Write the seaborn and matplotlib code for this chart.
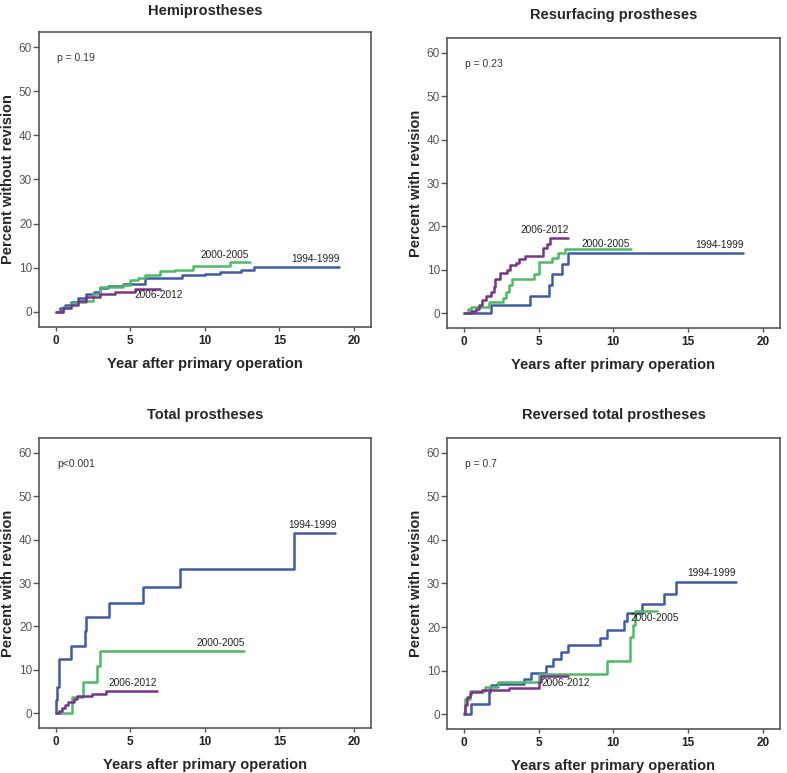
import matplotlib
matplotlib.use("Agg")
import matplotlib.pyplot as plt
import pandas as pd
import seaborn as sns

PERIODS = ["1994-1999", "2000-2005", "2006-2012"]
PALETTE = {"1994-1999": "#3e5ba8", "2000-2005": "#4dbb63", "2006-2012": "#78348a"}

# Hemiprostheses (step times in years, cumulative percent)
hemi_t_94 = [0, 0.3, 0.6, 1.0, 1.5, 2.0, 2.6, 3.0, 3.5, 4.5, 6.0, 8.0, 8.5, 10.0, 11.0, 12.4, 13.3, 19.0]
hemi_y_94 = [0, 0.8, 1.5, 2.2, 3.2, 4.1, 4.6, 5.5, 5.9, 6.3, 7.6, 7.8, 8.3, 8.7, 9.0, 9.6, 10.1, 10.1]
hemi_t_00 = [0, 0.5, 1.0, 1.5, 2.0, 2.5, 3.0, 4.5, 5.0, 5.5, 6.0, 7.0, 8.0, 9.2, 11.7, 13.0]
hemi_y_00 = [0, 1.2, 2.0, 2.2, 2.4, 4.0, 5.6, 6.0, 7.3, 7.8, 8.3, 9.3, 9.5, 10.3, 11.4, 11.4]
hemi_t_06 = [0, 0.5, 1.0, 1.5, 2.0, 3.0, 4.0, 5.3, 7.0]
hemi_y_06 = [0, 0.8, 1.5, 2.5, 3.5, 4.0, 4.5, 5.2, 5.2]

# Resurfacing prostheses
resu_t_94 = [0, 1.8, 4.4, 5.7, 5.9, 6.6, 7.0, 18.7]
resu_y_94 = [0, 2.0, 4.0, 6.5, 9.0, 11.3, 13.8, 13.8]
resu_t_00 = [0, 0.3, 0.5, 1.7, 2.6, 2.8, 3.0, 3.2, 4.7, 5.0, 5.9, 6.3, 6.8, 11.2]
resu_y_00 = [0, 1.0, 1.5, 2.5, 3.5, 5.0, 6.5, 8.0, 9.0, 11.8, 12.7, 13.8, 14.7, 14.7]
resu_t_06 = [0, 0.5, 0.8, 1.0, 1.2, 1.5, 1.8, 2.0, 2.1, 2.4, 2.9, 3.1, 3.5, 3.7, 4.1, 5.3, 5.6, 5.8, 7.0]
resu_y_06 = [0, 0.5, 1.0, 2.0, 3.0, 4.0, 5.0, 6.0, 8.0, 9.3, 10.0, 11.0, 11.5, 12.5, 13.3, 15.0, 16.0, 17.3, 17.3]

# Total prostheses
tota_t_94 = [0, 0.05, 0.1, 0.2, 0.25, 1.05, 1.95, 2.05, 3.6, 5.85, 8.35, 15.95, 18.7]
tota_y_94 = [0, 3.0, 6.0, 9.5, 12.5, 15.6, 19.0, 22.2, 25.5, 29.2, 33.2, 41.5, 41.5]
tota_t_00 = [0, 1.1, 1.8, 2.75, 3.0, 12.6]
tota_y_00 = [0, 3.7, 7.2, 10.8, 14.3, 14.3]
tota_t_06 = [0, 0.2, 0.4, 0.6, 0.8, 1.2, 1.4, 2.4, 3.4, 6.8]
tota_y_06 = [0, 0.5, 1.3, 2.0, 2.6, 3.2, 3.9, 4.5, 5.2, 5.2]

# Reversed total prostheses
reve_t_94 = [0, 0.5, 1.7, 1.75, 1.85, 2.2, 4.0, 4.5, 5.5, 6.0, 6.5, 7.0, 9.1, 9.6, 10.7, 10.9, 11.9, 13.4, 14.2, 18.2]
reve_y_94 = [0, 2.3, 5.0, 6.2, 6.6, 7.0, 8.1, 9.5, 11.0, 12.6, 14.2, 15.9, 17.5, 19.3, 21.5, 23.3, 25.2, 27.6, 30.4, 30.4]
reve_t_00 = [0, 0.05, 0.4, 1.4, 2.3, 5.0, 9.6, 11.1, 11.35, 11.45, 12.9]
reve_y_00 = [0.5, 3.5, 5.3, 6.3, 7.3, 9.3, 12.2, 17.7, 20.5, 23.7, 23.7]
reve_t_06 = [0, 0.05, 0.2, 0.4, 0.5, 1.2, 3.0, 5.0, 5.2, 7.0]
reve_y_06 = [0, 2.0, 4.0, 4.7, 5.0, 5.5, 6.0, 7.4, 8.8, 8.8]

TITLES = ["Hemiprostheses", "Resurfacing prostheses", "Total prostheses", "Reversed total prostheses"]
YLABELS = ["Percent without revision", "Percent with revision", "Percent with revision", "Percent with revision"]
XLABELS = ["Year after primary operation", "Years after primary operation",
           "Years after primary operation", "Years after primary operation"]
PVALUES = ["p = 0.19", "p = 0.23", "p<0.001", "p = 0.7"]


def frame(series):
    rows = []
    for period, (t, y) in zip(PERIODS, series):
        rows.append(pd.DataFrame({"years": t, "percent": y, "period": period}))
    return pd.concat(rows, ignore_index=True)


panels = [
    frame([(hemi_t_94, hemi_y_94), (hemi_t_00, hemi_y_00), (hemi_t_06, hemi_y_06)]),
    frame([(resu_t_94, resu_y_94), (resu_t_00, resu_y_00), (resu_t_06, resu_y_06)]),
    frame([(tota_t_94, tota_y_94), (tota_t_00, tota_y_00), (tota_t_06, tota_y_06)]),
    frame([(reve_t_94, reve_y_94), (reve_t_00, reve_y_00), (reve_t_06, reve_y_06)]),
]

# curve label positions (x, y) per panel, in order of PERIODS
label_pos = [
    [(17.4, 12.0), (11.3, 13.0), (6.9, 3.8)],
    [(17.1, 15.7), (9.5, 16.0), (5.4, 19.2)],
    [(17.2, 43.3), (11.05, 16.1), (5.15, 6.9)],
    [(16.6, 32.3), (12.8, 22.0), (6.8, 7.1)],
]

axes_rects = [
    [0.0496, 0.577, 0.4219, 0.3816],
    [0.568, 0.5757, 0.423, 0.375],
    [0.0496, 0.0582, 0.4219, 0.375],
    [0.568, 0.0569, 0.423, 0.3765],
]
title_pads = [12, 14, 14, 14]

sns.set_style("white")
plt.rcParams["font.family"] = ["Liberation Sans", "DejaVu Sans"]

fig = plt.figure(figsize=(7.87, 7.73), dpi=100)

for i, data in enumerate(panels):
    ax = fig.add_axes(axes_rects[i])
    sns.lineplot(
        data=data, x="years", y="percent", hue="period", palette=PALETTE,
        estimator=None, sort=False, drawstyle="steps-post", linewidth=1.8,
        legend=False, ax=ax,
    )
    ax.set_xlim(-1.12, 21.15)
    ax.set_ylim(-3.4, 63.4)
    ax.set_xticks([0, 5, 10, 15, 20])
    ax.set_yticks([0, 10, 20, 30, 40, 50, 60])
    ax.tick_params(axis="x", direction="out", length=3, width=1, color="#555555",
                   labelsize=8.5, labelcolor="#222222", pad=3, bottom=True)
    ax.tick_params(axis="y", direction="out", length=4, width=1, color="#555555",
                   labelsize=8.5, labelcolor="#555555", pad=1, left=True)
    for lab in ax.get_xticklabels():
        lab.set_fontweight("bold")
    for side in ax.spines.values():
        side.set_color("#555555")
        side.set_linewidth(1.2)
    ax.set_title(TITLES[i], fontsize=10.5, fontweight="bold", pad=title_pads[i])
    ax.set_xlabel(XLABELS[i], fontsize=10.5, fontweight="bold", labelpad=7)
    ax.set_ylabel(YLABELS[i], fontsize=10.5, fontweight="bold", labelpad=3)
    ax.text(0.1, 57.5, PVALUES[i], fontsize=7.5, color="#333333", va="center", ha="left")
    for period, (lx, ly) in zip(PERIODS, label_pos[i]):
        ax.text(lx, ly, period, fontsize=7.3, color="#222222", ha="center", va="center")

fig.savefig("out.png", dpi=100)
